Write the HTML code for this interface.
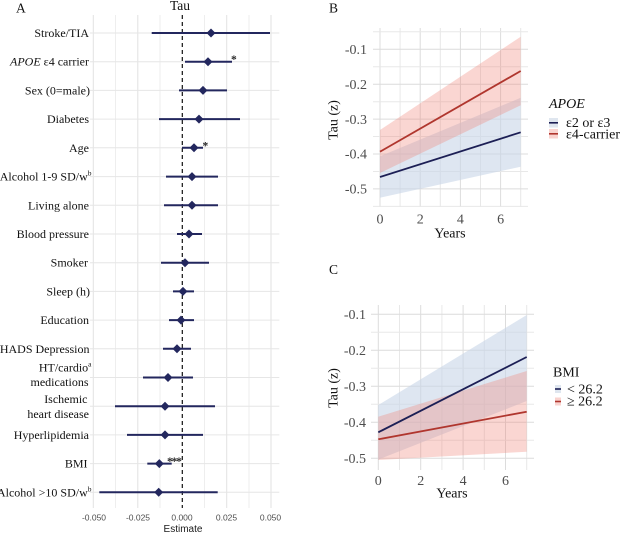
<!DOCTYPE html>
<html><head><meta charset="utf-8"><style>
html,body{margin:0;padding:0;background:#fff;}
svg{display:block;}
</style></head><body>
<svg width="634" height="538" viewBox="0 0 634 538" xmlns="http://www.w3.org/2000/svg" font-family="'Liberation Serif', serif">
<rect width="634" height="538" fill="#fff"/>

<!-- ================= PANEL A ================= -->
<text x="16" y="12.7" font-size="13.5" fill="#111">A</text>
<text x="180" y="10" font-size="13.5" fill="#111" text-anchor="middle">Tau</text>

<g stroke-width="1">
<line x1="93.3" y1="15" x2="93.3" y2="508" stroke="#e2e2e2"/>
<line x1="115.5" y1="15" x2="115.5" y2="508" stroke="#eeeeee"/>
<line x1="137.8" y1="15" x2="137.8" y2="508" stroke="#e2e2e2"/>
<line x1="160" y1="15" x2="160" y2="508" stroke="#eeeeee"/>
<line x1="204.5" y1="15" x2="204.5" y2="508" stroke="#eeeeee"/>
<line x1="226.7" y1="15" x2="226.7" y2="508" stroke="#e2e2e2"/>
<line x1="249" y1="15" x2="249" y2="508" stroke="#eeeeee"/>
<line x1="271" y1="15" x2="271" y2="508" stroke="#e2e2e2"/>
</g>
<g stroke="#e6e6e6" stroke-width="1">
<line x1="90" y1="33" x2="279.3" y2="33"/>
<line x1="90" y1="61.7" x2="279.3" y2="61.7"/>
<line x1="90" y1="90.4" x2="279.3" y2="90.4"/>
<line x1="90" y1="119.1" x2="279.3" y2="119.1"/>
<line x1="90" y1="147.8" x2="279.3" y2="147.8"/>
<line x1="90" y1="176.6" x2="279.3" y2="176.6"/>
<line x1="90" y1="205.3" x2="279.3" y2="205.3"/>
<line x1="90" y1="234" x2="279.3" y2="234"/>
<line x1="90" y1="262.7" x2="279.3" y2="262.7"/>
<line x1="90" y1="291.4" x2="279.3" y2="291.4"/>
<line x1="90" y1="320.1" x2="279.3" y2="320.1"/>
<line x1="90" y1="348.8" x2="279.3" y2="348.8"/>
<line x1="90" y1="377.5" x2="279.3" y2="377.5"/>
<line x1="90" y1="406.2" x2="279.3" y2="406.2"/>
<line x1="90" y1="434.9" x2="279.3" y2="434.9"/>
<line x1="90" y1="463.6" x2="279.3" y2="463.6"/>
<line x1="90" y1="492.3" x2="279.3" y2="492.3"/>
</g>
<line x1="182.3" y1="15" x2="182.3" y2="508" stroke="#111" stroke-width="1.2" stroke-dasharray="4,3"/>

<g stroke="#23275e" stroke-width="2">
<line x1="151.7" y1="33" x2="270" y2="33"/>
<line x1="185" y1="61.7" x2="232" y2="61.7"/>
<line x1="179" y1="90.4" x2="227" y2="90.4"/>
<line x1="159" y1="119.1" x2="240" y2="119.1"/>
<line x1="182" y1="147.8" x2="203" y2="147.8"/>
<line x1="166" y1="176.6" x2="218" y2="176.6"/>
<line x1="164" y1="205.3" x2="218" y2="205.3"/>
<line x1="177" y1="234" x2="202" y2="234"/>
<line x1="161" y1="262.7" x2="209" y2="262.7"/>
<line x1="173" y1="291.4" x2="194" y2="291.4"/>
<line x1="169" y1="320.1" x2="194" y2="320.1"/>
<line x1="163" y1="348.8" x2="191" y2="348.8"/>
<line x1="143" y1="377.5" x2="193" y2="377.5"/>
<line x1="115" y1="406.2" x2="215" y2="406.2"/>
<line x1="127" y1="434.9" x2="203" y2="434.9"/>
<line x1="147.3" y1="463.6" x2="171.7" y2="463.6"/>
<line x1="99.3" y1="492.3" x2="217.7" y2="492.3"/>
</g>
<g fill="#23275e">
<path d="M211 28.5L215.5 33L211 37.5L206.5 33Z"/>
<path d="M208 57.2L212.5 61.7L208 66.2L203.5 61.7Z"/>
<path d="M203 85.9L207.5 90.4L203 94.9L198.5 90.4Z"/>
<path d="M199 114.6L203.5 119.1L199 123.6L194.5 119.1Z"/>
<path d="M194 143.3L198.5 147.8L194 152.3L189.5 147.8Z"/>
<path d="M192 172.1L196.5 176.6L192 181.1L187.5 176.6Z"/>
<path d="M192 200.8L196.5 205.3L192 209.8L187.5 205.3Z"/>
<path d="M189 229.5L193.5 234L189 238.5L184.5 234Z"/>
<path d="M185 258.2L189.5 262.7L185 267.2L180.5 262.7Z"/>
<path d="M183 286.9L187.5 291.4L183 295.9L178.5 291.4Z"/>
<path d="M181 315.6L185.5 320.1L181 324.6L176.5 320.1Z"/>
<path d="M177 344.3L181.5 348.8L177 353.3L172.5 348.8Z"/>
<path d="M168 373L172.5 377.5L168 382L163.5 377.5Z"/>
<path d="M165 401.7L169.5 406.2L165 410.7L160.5 406.2Z"/>
<path d="M165 430.4L169.5 434.9L165 439.4L160.5 434.9Z"/>
<path d="M159.3 459.1L163.8 463.6L159.3 468.1L154.8 463.6Z"/>
<path d="M158.7 487.8L163.2 492.3L158.7 496.8L154.2 492.3Z"/>
</g>
<g font-size="11.5" fill="#2a2a2a" font-weight="bold">
<text x="231" y="63">*</text>
<text x="202.5" y="149.5">*</text>
<text x="167" y="465" letter-spacing="-1.2">***</text>
</g>

<g font-size="12" fill="#111" text-anchor="end">
<text x="89" y="37">Stroke/TIA</text>
<text x="89" y="65.7"><tspan font-style="italic">APOE</tspan> ε4 carrier</text>
<text x="90" y="94.4">Sex (0=male)</text>
<text x="89" y="123.1">Diabetes</text>
<text x="89" y="151.8">Age</text>
<text x="91.5" y="180.6">Alcohol 1-9 SD/w<tspan font-size="7.5" dy="-5">b</tspan></text>
<text x="89" y="209.3">Living alone</text>
<text x="89" y="238">Blood pressure</text>
<text x="88" y="266.7">Smoker</text>
<text x="90" y="295.4">Sleep (h)</text>
<text x="89" y="324.1">Education</text>
<text x="89.5" y="352.8">HADS Depression</text>
<text x="91.5" y="371.5">HT/cardio<tspan font-size="7.5" dy="-5">a</tspan></text>
<text x="88.5" y="386">medications</text>
<text x="87.5" y="403">Ischemic</text>
<text x="89" y="418">heart disease</text>
<text x="89" y="438.9">Hyperlipidemia</text>
<text x="87.5" y="467.6">BMI</text>
<text x="91.5" y="496.3">Alcohol &gt;10 SD/w<tspan font-size="7.5" dy="-5">b</tspan></text>
</g>

<g font-family="'Liberation Sans', sans-serif" font-size="8.5" fill="#4d4d4d" text-anchor="middle">
<text x="94" y="520.3">-0.050</text>
<text x="138" y="520.3">-0.025</text>
<text x="182" y="520.3">0.000</text>
<text x="226.5" y="520.3">0.025</text>
<text x="270.5" y="520.3">0.050</text>
</g>
<text x="183" y="532" font-family="'Liberation Sans', sans-serif" font-size="10" fill="#1a1a1a" text-anchor="middle">Estimate</text>

<!-- ================= PANEL B ================= -->
<text x="329" y="12.7" font-size="13.5" fill="#111">B</text>
<g stroke-width="1">
<line x1="380" y1="28" x2="380" y2="207" stroke="#dcdcdc"/>
<line x1="400.1" y1="28" x2="400.1" y2="207" stroke="#e8e8e8"/>
<line x1="420.2" y1="28" x2="420.2" y2="207" stroke="#dcdcdc"/>
<line x1="440.3" y1="28" x2="440.3" y2="207" stroke="#e8e8e8"/>
<line x1="460.4" y1="28" x2="460.4" y2="207" stroke="#dcdcdc"/>
<line x1="480.5" y1="28" x2="480.5" y2="207" stroke="#e8e8e8"/>
<line x1="500.6" y1="28" x2="500.6" y2="207" stroke="#dcdcdc"/>
<line x1="520.7" y1="28" x2="520.7" y2="207" stroke="#e8e8e8"/>
<line x1="373" y1="31.8" x2="528" y2="31.8" stroke="#e8e8e8"/>
<line x1="373" y1="49.3" x2="528" y2="49.3" stroke="#dcdcdc"/>
<line x1="373" y1="66.8" x2="528" y2="66.8" stroke="#e8e8e8"/>
<line x1="373" y1="84.2" x2="528" y2="84.2" stroke="#dcdcdc"/>
<line x1="373" y1="101.7" x2="528" y2="101.7" stroke="#e8e8e8"/>
<line x1="373" y1="119.1" x2="528" y2="119.1" stroke="#dcdcdc"/>
<line x1="373" y1="136.5" x2="528" y2="136.5" stroke="#e8e8e8"/>
<line x1="373" y1="154" x2="528" y2="154" stroke="#dcdcdc"/>
<line x1="373" y1="171.5" x2="528" y2="171.5" stroke="#e8e8e8"/>
<line x1="373" y1="188.9" x2="528" y2="188.9" stroke="#dcdcdc"/>
<line x1="373" y1="206.4" x2="528" y2="206.4" stroke="#e8e8e8"/>
</g>
<polygon points="380,156.3 520.7,97.8 520.7,166.7 380,197.7" fill="rgb(200,214,232)" fill-opacity="0.6"/>
<polygon points="380,130 520.7,36.7 520.7,105.3 380,173" fill="rgb(240,130,118)" fill-opacity="0.33"/>
<line x1="380" y1="177" x2="520.7" y2="132.3" stroke="#1c1f55" stroke-width="1.8"/>
<line x1="380" y1="151.7" x2="520.7" y2="71" stroke="#b0362e" stroke-width="1.8"/>
<g font-size="14" fill="#4d4d4d" text-anchor="end">
<text x="367" y="54">-0.1</text>
<text x="367" y="88.9">-0.2</text>
<text x="367" y="123.8">-0.3</text>
<text x="367" y="158.7">-0.4</text>
<text x="367" y="193.6">-0.5</text>
</g>
<g font-size="14" fill="#4d4d4d" text-anchor="middle">
<text x="380" y="223.3">0</text>
<text x="420.2" y="223.3">2</text>
<text x="460.4" y="223.3">4</text>
<text x="500.6" y="223.3">6</text>
</g>
<text x="450" y="237.5" font-size="14" fill="#111" text-anchor="middle">Years</text>
<text transform="translate(337.5,120) rotate(-90)" font-size="14" fill="#111" text-anchor="middle">Tau (z)</text>
<text x="549" y="108" font-size="14" font-style="italic" fill="#111">APOE</text>
<rect x="549" y="118" width="9" height="9.5" fill="#dfe6ef"/>
<line x1="549" y1="122.8" x2="558" y2="122.8" stroke="#1c1f55" stroke-width="1.6"/>
<rect x="549" y="129" width="9" height="9.5" fill="#f9d3cf"/>
<line x1="549" y1="133.8" x2="558" y2="133.8" stroke="#b0362e" stroke-width="1.6"/>
<text x="566" y="127" font-size="14" fill="#111">ε2 or ε3</text>
<text x="566" y="138.5" font-size="14" fill="#111">ε4-carrier</text>

<!-- ================= PANEL C ================= -->
<text x="329" y="274" font-size="13.5" fill="#111">C</text>
<g stroke-width="1">
<line x1="378.3" y1="305" x2="378.3" y2="470" stroke="#dcdcdc"/>
<line x1="399.5" y1="305" x2="399.5" y2="470" stroke="#e8e8e8"/>
<line x1="420.7" y1="305" x2="420.7" y2="470" stroke="#dcdcdc"/>
<line x1="441.9" y1="305" x2="441.9" y2="470" stroke="#e8e8e8"/>
<line x1="463.1" y1="305" x2="463.1" y2="470" stroke="#dcdcdc"/>
<line x1="484.3" y1="305" x2="484.3" y2="470" stroke="#e8e8e8"/>
<line x1="505.5" y1="305" x2="505.5" y2="470" stroke="#dcdcdc"/>
<line x1="526.7" y1="305" x2="526.7" y2="470" stroke="#e8e8e8"/>
<line x1="371" y1="314.3" x2="534" y2="314.3" stroke="#dcdcdc"/>
<line x1="371" y1="332.3" x2="534" y2="332.3" stroke="#e8e8e8"/>
<line x1="371" y1="350.3" x2="534" y2="350.3" stroke="#dcdcdc"/>
<line x1="371" y1="368.3" x2="534" y2="368.3" stroke="#e8e8e8"/>
<line x1="371" y1="386.3" x2="534" y2="386.3" stroke="#dcdcdc"/>
<line x1="371" y1="404.3" x2="534" y2="404.3" stroke="#e8e8e8"/>
<line x1="371" y1="422.3" x2="534" y2="422.3" stroke="#dcdcdc"/>
<line x1="371" y1="440.3" x2="534" y2="440.3" stroke="#e8e8e8"/>
<line x1="371" y1="458.3" x2="534" y2="458.3" stroke="#dcdcdc"/>
</g>
<polygon points="378.3,405 526.7,315 526.7,401 378.3,459.6" fill="rgb(200,214,232)" fill-opacity="0.6"/>
<polygon points="378.3,416.7 526.7,371 526.7,451.7 378.3,460" fill="rgb(240,130,118)" fill-opacity="0.33"/>
<line x1="378.3" y1="432.3" x2="526.7" y2="357" stroke="#1c1f55" stroke-width="1.8"/>
<line x1="378.3" y1="439.3" x2="526.7" y2="411.7" stroke="#b0362e" stroke-width="1.8"/>
<g font-size="14" fill="#4d4d4d" text-anchor="end">
<text x="366" y="319">-0.1</text>
<text x="366" y="355">-0.2</text>
<text x="366" y="391">-0.3</text>
<text x="366" y="427">-0.4</text>
<text x="366" y="463">-0.5</text>
</g>
<g font-size="14" fill="#4d4d4d" text-anchor="middle">
<text x="378.3" y="485">0</text>
<text x="420.7" y="485">2</text>
<text x="463.1" y="485">4</text>
<text x="505.5" y="485">6</text>
</g>
<text x="452" y="497.5" font-size="14" fill="#111" text-anchor="middle">Years</text>
<text transform="translate(337.5,388) rotate(-90)" font-size="14" fill="#111" text-anchor="middle">Tau (z)</text>
<text x="553" y="376.7" font-size="14" fill="#111">BMI</text>
<rect x="555" y="385" width="6" height="8" fill="#dfe6ef"/>
<line x1="555" y1="389" x2="561" y2="389" stroke="#1c1f55" stroke-width="1.6"/>
<rect x="555" y="397.5" width="6" height="8" fill="#f9d3cf"/>
<line x1="555" y1="401.5" x2="561" y2="401.5" stroke="#b0362e" stroke-width="1.6"/>
<text x="567" y="393.5" font-size="14" fill="#111">&lt; 26.2</text>
<text x="567" y="405.5" font-size="14" fill="#111">≥ 26.2</text>
</svg>
</body></html>
